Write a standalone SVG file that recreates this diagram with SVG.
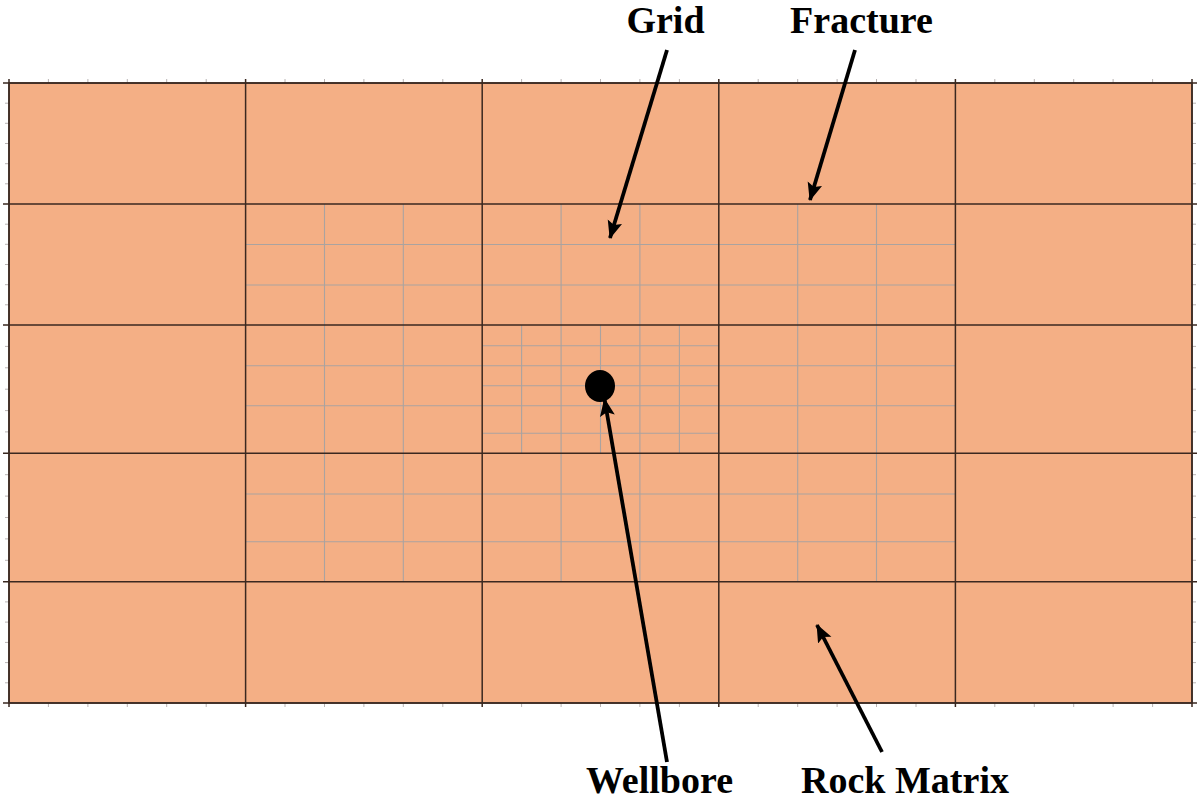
<svg xmlns="http://www.w3.org/2000/svg" width="1200" height="801" viewBox="0 0 1200 801">
  <style>
    .bg { fill: #F4AF85; }
    .thick { stroke: #3a2820; stroke-width: 1.5; fill: none; }
    .fine { stroke: #aaa3a0; stroke-width: 1.1; fill: none; }
    .tick { stroke: #b9b4b4; stroke-width: 1; fill: none; }
    .arrow { stroke: #000; stroke-width: 3.8; fill: none; }
    .label { font-family: "Liberation Serif", "Times New Roman", serif; font-weight: bold; font-size: 38px; fill: #000; text-anchor: middle; }
  </style>
  <defs>
    <marker id="ah" markerUnits="userSpaceOnUse" markerWidth="20" markerHeight="16" refX="17" refY="7.5" orient="auto">
      <path d="M0,0 L18,7.5 L0,15 L3.5,7.5 z" fill="#000"/>
    </marker>
    <path id="vticks" d="M5,103.2h4M5,123.3h4M5,143.5h4M5,163.7h4M5,183.8h4M5,224.2h4M5,244.3h4M5,264.5h4M5,284.7h4M5,304.8h4M5,346.4h4M5,367.8h4M5,389.2h4M5,410.6h4M5,431.9h4M5,474.7h4M5,496.1h4M5,517.5h4M5,538.9h4M5,560.3h4M5,601.9h4M5,622.1h4M5,642.4h4M5,662.6h4M5,682.8h4"/>
    <path id="hticks" d="M48.4,79v4M87.9,79v4M127.3,79v4M166.7,79v4M206.2,79v4M285,79v4M324.5,79v4M363.9,79v4M403.3,79v4M442.8,79v4M521.6,79v4M561.1,79v4M600.5,79v4M639.9,79v4M679.4,79v4M758.2,79v4M797.7,79v4M837.1,79v4M876.5,79v4M916,79v4M994.8,79v4M1034.3,79v4M1073.7,79v4M1113.1,79v4M1152.6,79v4"/>
  </defs>

  <g id="rock-matrix">
    <rect class="bg" x="9" y="83" width="1183" height="620"/>
  </g>

  <g id="ticks" class="tick">
    <use href="#vticks"/>
    <use href="#vticks" transform="translate(1187,0)"/>
    <use href="#hticks"/>
    <use href="#hticks" transform="translate(0,624)"/>
  </g>

  <g id="fine-grid" class="fine">
    <path d="M324.5,204V581.7M403.3,204V581.7M561.1,204V325M639.9,204V325M561.1,453.3V581.7M639.9,453.3V581.7M797.7,204V581.7M876.5,204V581.7"/>
    <path d="M245.6,244.5H955.4M245.6,285H955.4M245.6,365.7H482.2M245.6,405.7H482.2M718.8,365.7H955.4M718.8,405.7H955.4M245.6,494H955.4M245.6,541.7H955.4"/>
    <path d="M521.6,325V453.3M561.1,325V453.3M600.5,325V453.3M639.9,325V453.3M679.4,325V453.3"/>
    <path d="M482.2,345.7H718.8M482.2,365.7H718.8M482.2,385.7H718.8M482.2,405.7H718.8M482.2,433.3H718.8"/>
  </g>

  <g id="coarse-grid" class="thick">
    <rect x="9" y="83" width="1183" height="620"/>
    <path d="M245.6,79V707M482.2,79V707M718.8,79V707M955.4,79V707M9,79V707M1192,79V707"/>
    <path d="M3,204H1197M3,325H1197M3,453.3H1197M3,581.7H1197M3,83H1197M3,703H1197"/>
  </g>

  <g id="wellbore">
    <ellipse cx="600" cy="386" rx="15" ry="16" fill="#000"/>
  </g>

  <g id="connectors" class="arrow">
    <line x1="667" y1="50" x2="610" y2="238" marker-end="url(#ah)"/>
    <line x1="855" y1="50" x2="810" y2="200" marker-end="url(#ah)"/>
    <line x1="667" y1="762" x2="604.5" y2="399" marker-end="url(#ah)"/>
    <line x1="882" y1="752" x2="817" y2="625" marker-end="url(#ah)"/>
  </g>

  <g id="labels">
    <text class="label" x="665.5" y="33">Grid</text>
    <text class="label" x="861.5" y="33">Fracture</text>
    <text class="label" x="659.5" y="793">Wellbore</text>
    <text class="label" x="905" y="793">Rock Matrix</text>
  </g>
</svg>
